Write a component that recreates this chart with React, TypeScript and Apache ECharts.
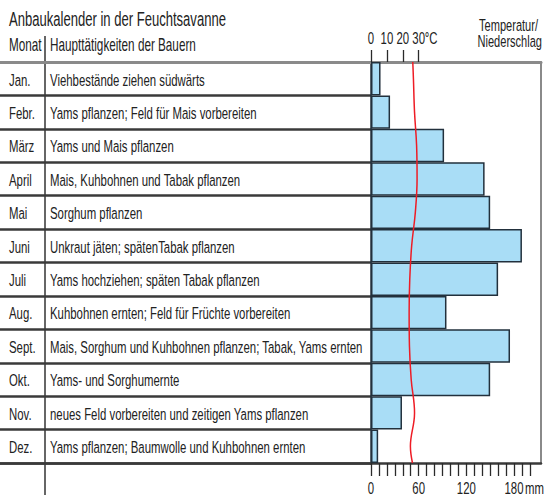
import React, { useEffect, useRef } from "react";
import * as echarts from "echarts";

const months = ["Jan.", "Febr.", "März", "April", "Mai", "Juni", "Juli", "Aug.", "Sept.", "Okt.", "Nov.", "Dez."];
const activities = [
  "Viehbestände ziehen südwärts",
  "Yams pflanzen; Feld für Mais vorbereiten",
  "Yams und Mais pflanzen",
  "Mais, Kuhbohnen und Tabak pflanzen",
  "Sorghum pflanzen",
  "Unkraut jäten; spätenTabak pflanzen",
  "Yams hochziehen; späten Tabak pflanzen",
  "Kuhbohnen ernten; Feld für Früchte vorbereiten",
  "Mais, Sorghum und Kuhbohnen pflanzen; Tabak, Yams ernten",
  "Yams- und Sorghumernte",
  "neues Feld vorbereiten und zeitigen Yams pflanzen",
  "Yams pflanzen; Baumwolle und Kuhbohnen ernten",
];
// Niederschlag (mm)
const precipitation = [12, 24, 92, 143, 150, 190, 160, 95, 175, 150, 39, 9];
// Temperatur (°C) at month centres, plus values at the start of Jan and the end of Dez
const temperature = [26.7, 27.4, 28.7, 29.0, 27.9, 25.6, 24.4, 24.0, 24.2, 25.3, 27.4, 24.8];
const temperatureStart = 26.3;
const temperatureEnd = 26.1;
const precipTickMax = 200;
const precipTickStep = 10;
const precipLabels = [0, 60, 120, 180];
const precipUnit = "mm";
const tempTickMax = 30;
const tempTickStep = 10;
const tempLabels = [0, 10, 20, 30];
const tempUnit = "°C";

const FONT = '"Liberation Sans", Arial, sans-serif';
const TXT = "#222";
const SX = 0.67; // condensed look

export default function App() {
  const ref = useRef<HTMLDivElement>(null);
  useEffect(() => {
    document.body.style.margin = "0";
    const chart = echarts.init(ref.current!, null, { renderer: "svg" });
    const W = 544;
    const top = 62;
    const bottom = 34;
    const split = 371;
    const rightPad = 3;
    const pMax = 214;
    const plotW = W - split - rightPad;
    const k = plotW / pMax; // px per mm

    const linePts: [number, number][] = [[temperatureStart, 0]];
    temperature.forEach((t, i) => linePts.push([t, i + 0.5]));
    linePts.push([temperatureEnd, months.length]);

    const txt = (text: string, x: number, y: number, size: number, align = "left") => ({
      type: "text",
      x,
      y,
      scaleX: SX,
      style: { text, font: `${size}px ${FONT}`, fill: TXT, align, verticalAlign: "middle" },
    });

    const hidden = { axisTick: { show: false }, axisLabel: { show: false }, splitLine: { show: false } };
    const noLine = { show: false, onZero: false };

    chart.setOption({
      animation: false,
      textStyle: { fontFamily: FONT },
      grid: [
        { left: 0, width: split, top, bottom },
        { left: split, width: plotW, top, bottom },
        { left: split, width: precipTickMax * k, top, bottom },
        { left: split, width: tempTickMax * 2 * k, top, bottom },
      ],
      xAxis: [
        {
          gridIndex: 0, type: "value", position: "top", min: 0, max: 1, ...hidden,
          axisLine: { show: true, onZero: false, lineStyle: { color: "#8a8a8a", width: 3 } },
        },
        {
          gridIndex: 0, type: "value", position: "bottom", min: 0, max: 1, ...hidden,
          axisLine: { show: true, onZero: false, lineStyle: { color: "#3a3a3a", width: 2.5 } },
        },
        {
          gridIndex: 1, type: "value", position: "bottom", min: 0, max: pMax, ...hidden,
          axisLine: { show: true, onZero: false, lineStyle: { color: "#3a3a3a", width: 2.5 } },
        },
        {
          gridIndex: 1, type: "value", position: "top", min: 0, max: pMax / 2, ...hidden,
          axisLine: { show: true, onZero: false, lineStyle: { color: "#8a8a8a", width: 3 } },
        },
        {
          gridIndex: 2, type: "value", position: "bottom", min: 0, max: precipTickMax, interval: precipTickStep, ...hidden,
          axisLine: noLine,
          axisTick: { show: true, inside: false, length: 13, lineStyle: { color: "#2a2a2a", width: 1.3 } },
        },
        {
          gridIndex: 3, type: "value", position: "top", min: 0, max: tempTickMax, interval: tempTickStep, ...hidden,
          axisLine: noLine,
          axisTick: { show: true, inside: false, length: 12, lineStyle: { color: "#2a2a2a", width: 1.3 } },
        },
      ],
      yAxis: [
        {
          gridIndex: 0, type: "category", data: months, inverse: true, ...hidden, axisLine: noLine,
          splitLine: { show: true, lineStyle: { color: "#3a3a3a", width: 2.5 } },
        },
        {
          gridIndex: 1, type: "category", data: months, inverse: true, position: "left", ...hidden,
          axisLine: { show: true, onZero: false, lineStyle: { color: "#22303c", width: 1.5 } },
        },
        {
          gridIndex: 1, type: "value", min: 0, max: months.length, inverse: true, position: "right", ...hidden,
          axisLine: { show: true, onZero: false, lineStyle: { color: "#8a8a8a", width: 2 } },
        },
        { gridIndex: 2, type: "value", min: 0, max: 1, ...hidden, axisLine: noLine },
        { gridIndex: 3, type: "value", min: 0, max: 1, ...hidden, axisLine: noLine },
      ],
      series: [
        {
          type: "bar", xAxisIndex: 2, yAxisIndex: 1, data: precipitation,
          barCategoryGap: 0, barWidth: "100%",
          itemStyle: { color: "#a9ddf6", borderColor: "#22303c", borderWidth: 1.5 },
        },
        {
          type: "line", xAxisIndex: 3, yAxisIndex: 2, data: linePts,
          smooth: 0.4, showSymbol: false, symbol: "none",
          lineStyle: { color: "#ee1c25", width: 1.5 }, z: 5,
        },
        {
          // table texts: month + main activity, positioned by the category axis
          type: "custom", xAxisIndex: 0, yAxisIndex: 0,
          data: months.map((_, i) => [0, i]),
          renderItem: (params: any, api: any) => {
            const i = params.dataIndex;
            const y = api.coord([0, i])[1];
            const x0 = params.coordSys.x;
            return {
              type: "group",
              children: [txt(months[i], x0 + 9, y + 1, 17), txt(activities[i], x0 + 50, y + 1, 17)],
            };
          },
        },
        {
          // precipitation tick labels
          type: "custom", xAxisIndex: 2, yAxisIndex: 1,
          data: precipLabels.map((v) => [v, 0]),
          renderItem: (params: any, api: any) => {
            const v = api.value(0);
            const x = api.coord([v, 0])[0];
            const y = params.coordSys.y + params.coordSys.height + 25;
            const children: any[] = [txt(String(v), x, y, 17, "center")];
            if (v === precipLabels[precipLabels.length - 1]) children.push(txt(precipUnit, x + 11, y, 17, "left"));
            return { type: "group", children };
          },
        },
        {
          // temperature tick labels
          type: "custom", xAxisIndex: 3, yAxisIndex: 2,
          data: tempLabels.map((v) => [v, 0]),
          renderItem: (params: any, api: any) => {
            const v = api.value(0);
            const x = api.coord([v, 0])[0];
            const y = params.coordSys.y - 24;
            const children: any[] = [txt(String(v), x, y, 17, "center")];
            if (v === tempLabels[tempLabels.length - 1]) children.push(txt(tempUnit, x + 6, y, 17, "left"));
            return { type: "group", children };
          },
        },
      ],
      graphic: [
        txt("Anbaukalender in der Feuchtsavanne", 9, 20, 19.5),
        txt("Monat", 9, 45.5, 17.5),
        txt("Haupttätigkeiten der Bauern", 50, 45.5, 17.5),
        txt("Temperatur/", 538, 25, 16.5, "right"),
        txt("Niederschlag", 542, 41.5, 16.5, "right"),
        { type: "line", shape: { x1: 45, y1: 36, x2: 45, y2: 495 }, style: { stroke: "#333", lineWidth: 1.5 } },
      ],
    });
    return () => chart.dispose();
  }, []);
  return <div ref={ref} style={{ width: 544, height: 497 }} />;
}
